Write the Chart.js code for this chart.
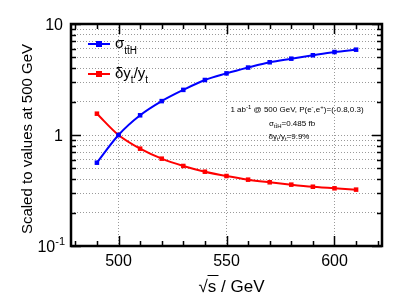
<!DOCTYPE html>
<html><head><meta charset="utf-8">
<script src="https://cdn.jsdelivr.net/npm/chart.js@4/dist/chart.umd.min.js"></script>
<style>html,body{margin:0;padding:0;background:#fff}canvas{display:block}</style>
</head><body>
<canvas id="c" width="415" height="301"></canvas>
<script>
const energies = [490,500,510,520,530,540,550,560,570,580,590,600,610];
const sigmaTTH = [0.563,1,1.505,2.02,2.55,3.13,3.59,4.05,4.52,4.87,5.23,5.59,5.87];
const deltaYt  = [1.556,1,0.753,0.612,0.526,0.467,0.427,0.396,0.375,0.357,0.342,0.331,0.322];
const xMajorTicks = [500,550,600];
const yMajorTicks = [0.1,1,10];
const xLabelText = ['500','550','600'];

const FONT = '"Liberation Sans", Arial, sans-serif';
const yAllTicks = [];
for (const d of [0.1,1]) for (let k=1;k<=9;k++) yAllTicks.push(+(d*k).toPrecision(3));
yAllTicks.push(10);
const xMinor = [];
for (let v=480; v<=620; v+=10) xMinor.push(v);

function txt(ctx, s, x, y, size, align, base){
  ctx.font = size+'px '+FONT; ctx.textAlign = align||'left'; ctx.textBaseline = base||'alphabetic';
  ctx.fillText(s,x,y); return ctx.measureText(s).width;
}
// draws sequence of [text, size, dy] pieces left to right
function rich(ctx, parts, x, y){
  let cx = x;
  for (const p of parts){ ctx.font = p[1]+'px '+FONT; ctx.textAlign='left'; ctx.textBaseline='alphabetic'; ctx.fillText(p[0], cx, y+(p[2]||0)); cx += ctx.measureText(p[0]).width; }
  return cx - x;
}
function richWidth(ctx, parts){ let w=0; for (const p of parts){ ctx.font=p[1]+'px '+FONT; w+=ctx.measureText(p[0]).width;} return w; }

const deco = {
  id:'deco',
  afterDraw(chart){
    const ctx = chart.ctx, a = chart.chartArea, xs = chart.scales.x, ys = chart.scales.y;
    ctx.save();
    ctx.strokeStyle = '#000'; ctx.lineWidth = 1;
    // ticks
    ctx.beginPath();
    for (const v of xMinor){
      const px = Math.round(xs.getPixelForValue(v))+0.5;
      const L = xMajorTicks.includes(v) ? 10 : 5;
      ctx.moveTo(px,a.bottom); ctx.lineTo(px,a.bottom-L);
      ctx.moveTo(px,a.top); ctx.lineTo(px,a.top+L);
    }
    for (const v of yAllTicks){
      const py = Math.round(ys.getPixelForValue(v))+0.5;
      const L = yMajorTicks.includes(v) ? 10 : 5;
      ctx.moveTo(a.left,py); ctx.lineTo(a.left+L,py);
      ctx.moveTo(a.right,py); ctx.lineTo(a.right-L,py);
    }
    ctx.lineWidth = 1.5; ctx.stroke();
    // frame
    ctx.lineWidth = 2.5;
    ctx.strokeRect(a.left, a.top, a.right-a.left, a.bottom-a.top);
    ctx.fillStyle = '#000';
    // x labels
    xMajorTicks.forEach((v,i)=>txt(ctx, xLabelText[i], xs.getPixelForValue(v), 266, 16, 'center'));
    // y labels
    txt(ctx,'10', a.left-8, ys.getPixelForValue(10)+6, 16, 'right');
    txt(ctx,'1', a.left-8, ys.getPixelForValue(1)+6, 16, 'right');
    { const py = ys.getPixelForValue(0.1)+6; const w2 = richWidth(ctx,[['-1',11]]);
      txt(ctx,'-1', a.left-6, py-7, 11, 'right'); txt(ctx,'10', a.left-6-w2, py, 16, 'right'); }
    // axis titles
    { const w = richWidth(ctx,[['√',17],['s / GeV',17]]);
      rich(ctx,[['√s / GeV',17]], (a.left+a.right)/2 - w/2 + 5, 292);
      ctx.beginPath(); ctx.lineWidth=1; const sx=(a.left+a.right)/2 - w/2 + 5; ctx.moveTo(sx+9,275.5); ctx.lineTo(sx+20,275.5); ctx.stroke(); }
    ctx.save(); ctx.translate(32, (a.top+a.bottom)/2 + 4); ctx.rotate(-Math.PI/2);
    txt(ctx,'Scaled to values at 500 GeV', 0, 0, 15, 'center'); ctx.restore();
    // legend
    const leg = [[ '#0000ff', 44, [['σ',15],['tt̄H',10,6]] ], ['#ff0000', 74, [['δy',15],['t',10,5],['/y',15],['t',10,5]] ]];
    for (const [col,y,parts] of leg){
      ctx.strokeStyle = col; ctx.fillStyle = col; ctx.lineWidth = 2;
      ctx.beginPath(); ctx.moveTo(88,y); ctx.lineTo(110,y); ctx.stroke();
      ctx.fillRect(96,y-3,6,6);
      ctx.fillStyle = '#000'; rich(ctx, parts, 115, y+4);
    }
    // annotation
    ctx.fillStyle = '#000';
    const l1 = [['1 ab',8],['-1',6,-3],[' @ 500 GeV, P(e',8],['-',6,-3],[',e',8],['+',6,-3],[')=(-0.8,0.3)',8]];
    rich(ctx, l1, 297 - richWidth(ctx,l1)/2, 112);
    const l2 = [['σ',8],['tt̄H',6,2],['=0.485 fb',8]];
    rich(ctx, l2, 292 - richWidth(ctx,l2)/2, 126);
    const l3 = [['δy',8],['t',6,2],['/y',8],['t',6,2],['=9.9%',8]];
    rich(ctx, l3, 289 - richWidth(ctx,l3)/2, 139);
    ctx.restore();
  }
};

new Chart(document.getElementById('c'), {
  type:'line',
  data:{ datasets:[
    { label:'sigma', data: energies.map((e,i)=>({x:e,y:sigmaTTH[i]})), borderColor:'#0000ff', backgroundColor:'#0000ff', borderWidth:2, pointStyle:'rect', pointRadius:3.2, pointBorderWidth:0, tension:0.3, cubicInterpolationMode:'monotone' },
    { label:'dy', data: energies.map((e,i)=>({x:e,y:deltaYt[i]})), borderColor:'#ff0000', backgroundColor:'#ff0000', borderWidth:2, pointStyle:'rect', pointRadius:3.2, pointBorderWidth:0, tension:0.3, cubicInterpolationMode:'monotone' }
  ]},
  options:{
    responsive:false, animation:false, devicePixelRatio:1,
    layout:{ padding:{ left:71, top:24, right:33, bottom:55 } },
    plugins:{ legend:{display:false}, tooltip:{enabled:false} },
    scales:{
      x:{ type:'linear', min:478, max:622,
          afterBuildTicks: s => { s.ticks = xMajorTicks.map(v=>({value:v})); },
          afterFit: s => { s.height = 0; },
          ticks:{ display:false }, grid:{ color:'#9a9a9a', lineWidth:1, drawTicks:false }, border:{ display:false, dash:[1,2] } },
      y:{ type:'logarithmic', min:0.1, max:10,
          afterBuildTicks: s => { s.ticks = yAllTicks.map(v=>({value:v})); },
          afterFit: s => { s.width = 0; },
          ticks:{ display:false }, grid:{ color:'#9a9a9a', lineWidth:1, drawTicks:false }, border:{ display:false, dash:[1,2] } }
    }
  },
  plugins:[deco]
});
</script>
</body></html>
